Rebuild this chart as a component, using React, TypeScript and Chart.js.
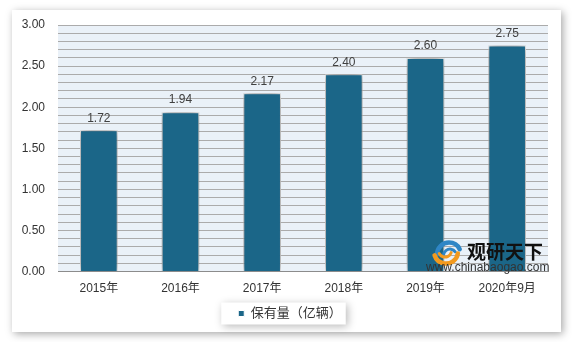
import React, { useEffect, useRef } from "react";
import { Chart, registerables } from "chart.js";

Chart.register(...registerables);

const categories = ["2015年", "2016年", "2017年", "2018年", "2019年", "2020年9月"];
const values = [1.72, 1.94, 2.17, 2.4, 2.6, 2.75];
const seriesName = "保有量（亿辆）";
const yMin = 0;
const yMax = 3;
const gridStep = 0.1;
const labelStep = 0.5;

const BAR_COLOR = "#1B6688";
const FONT = "'Liberation Sans', Arial, 'Noto Sans CJK SC', sans-serif";

const bgPlugin = {
  id: "plotBg",
  afterLayout(chart: any) {
    const lg = chart.legend;
    if (lg) {
      lg.left += 10;
      lg.right += 10;
    }
  },
  beforeDraw(chart: any) {
    const { ctx, chartArea: a } = chart;
    ctx.save();
    ctx.fillStyle = "#EAF1F8";
    ctx.fillRect(a.left, a.top, a.right - a.left, a.bottom - a.top);
    ctx.restore();
  },
};

const legendBoxPlugin = {
  id: "legendBox",
  beforeDraw(chart: any) {
    const lg = chart.legend;
    if (!lg || !lg.legendHitBoxes || !lg.legendHitBoxes.length) return;
    const hb = lg.legendHitBoxes[0];
    const { ctx } = chart;
    ctx.save();
    ctx.shadowColor = "rgba(0,0,0,0.28)";
    ctx.shadowBlur = 8;
    ctx.shadowOffsetX = 2;
    ctx.shadowOffsetY = 2;
    ctx.fillStyle = "#FFFFFF";
    const cy = hb.top + hb.height / 2;
    ctx.fillRect(hb.left - 17, cy - 11, hb.width + 21, 22);
    ctx.restore();
  },
};

const shadowPlugin = {
  id: "barShadow",
  beforeDatasetsDraw(chart: any) {
    const { ctx } = chart;
    ctx.save();
    ctx.shadowColor = "rgba(0,0,0,0.6)";
    ctx.shadowBlur = 10;
    ctx.shadowOffsetX = 0;
    ctx.shadowOffsetY = 0;
  },
  afterDatasetsDraw(chart: any) {
    chart.ctx.restore();
  },
};

const dataLabelPlugin = {
  id: "dataLabels",
  afterDatasetsDraw(chart: any) {
    const { ctx } = chart;
    const meta = chart.getDatasetMeta(0);
    ctx.save();
    ctx.fillStyle = "#404040";
    ctx.font = `12px ${FONT}`;
    ctx.textAlign = "center";
    ctx.textBaseline = "bottom";
    meta.data.forEach((bar: any, i: number) => {
      const v = chart.data.datasets[0].data[i] as number;
      ctx.fillText(v.toFixed(2), bar.x, bar.y - 6);
    });
    ctx.restore();
  },
};

const watermarkPlugin = {
  id: "watermark",
  afterDraw(chart: any) {
    const { ctx, chartArea: a } = chart;
    const x0 = a.right - 116;
    const y0 = a.bottom - 31;
    ctx.save();
    // logo
    const cx = x0 + 15;
    const cy = y0 + 12;
    ctx.lineCap = "round";
    ctx.strokeStyle = "#2F86C6";
    ctx.lineWidth = 4.5;
    ctx.beginPath();
    ctx.arc(cx + 2, cy + 2, 12, Math.PI * 1.0, Math.PI * 1.85);
    ctx.stroke();
    ctx.lineWidth = 3;
    ctx.beginPath();
    ctx.arc(cx + 3, cy + 3, 6.5, Math.PI * 1.05, Math.PI * 1.8);
    ctx.stroke();
    ctx.strokeStyle = "#F29A1F";
    ctx.lineWidth = 4.5;
    ctx.beginPath();
    ctx.arc(cx - 1, cy - 1, 12, Math.PI * 0.05, Math.PI * 0.9);
    ctx.stroke();
    ctx.lineWidth = 3;
    ctx.beginPath();
    ctx.arc(cx - 2, cy - 2, 6.5, Math.PI * 0.1, Math.PI * 0.85);
    ctx.stroke();
    // text
    ctx.fillStyle = "#111111";
    ctx.font = `bold 19px 'Noto Sans CJK SC', sans-serif`;
    ctx.textBaseline = "middle";
    ctx.textAlign = "left";
    ctx.fillText("观研天下", x0 + 35, y0 + 11);
    ctx.fillStyle = "#333333";
    ctx.font = `12px ${FONT}`;
    ctx.fillText("www.chinabaogao.com", a.right - 122, y0 + 27);
    ctx.restore();
  },
};

export default function App() {
  const ref = useRef<HTMLCanvasElement>(null);

  useEffect(() => {
    document.body.style.margin = "0";
    const c = ref.current;
    if (!c) return;
    const chart = new Chart(c, {
      type: "bar",
      data: {
        labels: categories,
        datasets: [
          {
            label: seriesName,
            data: values,
            backgroundColor: BAR_COLOR,
            borderColor: "#FFFFFF",
            borderWidth: 1,
            barPercentage: 0.46,
            categoryPercentage: 1,
          },
        ],
      },
      options: {
        animation: false,
        responsive: false,
        maintainAspectRatio: false,
        layout: { padding: { left: 12, right: 24, top: 25, bottom: 12 } },
        plugins: {
          legend: {
            display: true,
            position: "bottom",
            labels: {
              boxWidth: 6,
              boxHeight: 6,
              padding: 1,
              color: "#333333",
              font: { size: 13, family: FONT },
            },
          },
          tooltip: { enabled: false },
        },
        scales: {
          x: {
            grid: { display: false, drawTicks: false },
            border: { display: true, color: "#8C8C8C", width: 1 },
            ticks: {
              color: "#333333",
              font: { size: 12, family: FONT },
              padding: 10,
            },
          },
          y: {
            min: yMin,
            max: yMax,
            afterFit(scale: any) {
              scale.width = 46;
            },
            grid: { color: "#ABABAB", lineWidth: 1, drawTicks: false },
            border: { display: false },
            ticks: {
              stepSize: gridStep,
              autoSkip: false,
              color: "#333333",
              font: { size: 12, family: FONT },
              padding: 13,
              callback(v: any) {
                const n = Number(v);
                const r = Math.round(n / labelStep) * labelStep;
                return Math.abs(n - r) < 1e-6 ? n.toFixed(2) : "";
              },
            },
          },
        },
      },
      plugins: [bgPlugin, legendBoxPlugin, shadowPlugin, dataLabelPlugin, watermarkPlugin],
    });
    return () => chart.destroy();
  }, []);

  return (
    <div style={{ position: "relative", width: 572, height: 342, background: "#FFFFFF", overflow: "hidden" }}>
      <div
        style={{
          position: "absolute",
          left: 12,
          top: 10,
          width: 549,
          height: 322,
          background: "#FFFFFF",
          boxShadow: "2px 2px 8px rgba(0,0,0,0.35)",
        }}
      />
      <canvas ref={ref} width={572} height={342} style={{ position: "absolute", left: 0, top: 0, width: 572, height: 342 }} />
    </div>
  );
}
